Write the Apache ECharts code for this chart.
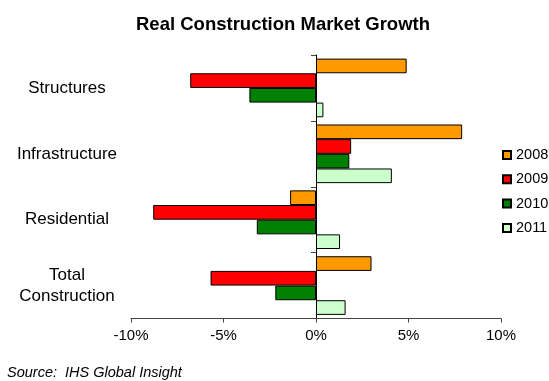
<!DOCTYPE html>
<html>
<head>
<meta charset="utf-8">
<script src="https://cdn.jsdelivr.net/npm/echarts@6/dist/echarts.min.js"></script>
<style>
  html, body { margin: 0; padding: 0; background: #fff; }
  #chart { width: 549px; height: 381px; }
</style>
</head>
<body>
<div id="chart"></div>
<script>
// Market segments, top to bottom
const categories = ['Structures', 'Infrastructure', 'Residential', 'Total\nConstruction'];
const years = ['2008', '2009', '2010', '2011'];

// Real growth rates, percent
const growth2008 = [4.9, 7.9, -1.4, 3.0];
const growth2009 = [-6.8, 1.9, -8.8, -5.7];
const growth2010 = [-3.6, 1.8, -3.2, -2.2];
const growth2011 = [0.4, 4.1, 1.3, 1.6];

const xTicks = { min: -10, max: 10, step: 5 };

const seriesValues = [growth2008, growth2009, growth2010, growth2011];
const seriesColors = ['#FF9900', '#FF0000', '#008000', '#CCFFCC'];
const FONT = '"Liberation Sans", Arial, sans-serif';

const chart = echarts.init(document.getElementById('chart'), null, { renderer: 'canvas' });

chart.setOption({
  animation: false,
  backgroundColor: '#ffffff',
  title: {
    text: 'Real Construction Market Growth',
    left: 278,
    top: 10,
    textAlign: 'center',
    textStyle: { fontFamily: FONT, fontSize: 18.5, fontWeight: 'bold', color: '#000' }
  },
  graphic: [{
    type: 'text',
    left: 7,
    top: 365,
    style: {
      text: 'Source:  IHS Global Insight',
      font: 'italic 14.5px ' + FONT,
      fill: '#000'
    }
  }],
  legend: {
    orient: 'vertical',
    left: 502,
    top: 147,
    padding: 0,
    itemWidth: 8,
    itemHeight: 8,
    itemGap: 8.3,
    icon: 'rect',
    data: years,
    textStyle: { fontFamily: FONT, fontSize: 14.5, color: '#000', lineHeight: 16 }
  },
  grid: { left: 131, right: 48, top: 55, bottom: 62.5 },
  xAxis: {
    type: 'value',
    min: xTicks.min,
    max: xTicks.max,
    interval: xTicks.step,
    axisLine: { show: true, lineStyle: { color: '#444', width: 1 } },
    axisTick: { show: true, length: 4, lineStyle: { color: '#444' } },
    splitLine: { show: false },
    axisLabel: {
      fontFamily: FONT, fontSize: 15, color: '#000', margin: 10,
      formatter: '{value}%'
    }
  },
  yAxis: [{
    type: 'category',
    data: categories,
    inverse: true,
    position: 'left',
    axisLine: { show: false, onZero: false },
    axisTick: { show: false },
    axisLabel: {
      fontFamily: FONT, fontSize: 17, color: '#000',
      align: 'center', margin: 64, lineHeight: 21
    }
  }, {
    type: 'category',
    data: categories,
    inverse: true,
    position: 'left',
    axisLine: { show: true, onZero: true, lineStyle: { color: '#000', width: 1 } },
    axisTick: { show: true, length: 5, lineStyle: { color: '#444' } },
    axisLabel: { show: false }
  }],
  series: years.map((y, i) => ({
    name: y,
    type: 'bar',
    yAxisIndex: 0,
    data: seriesValues[i],
    barGap: '0%',
    barCategoryGap: '11%',
    itemStyle: { color: seriesColors[i], borderColor: '#000', borderWidth: 1 }
  }))
});
</script>
</body>
</html>
